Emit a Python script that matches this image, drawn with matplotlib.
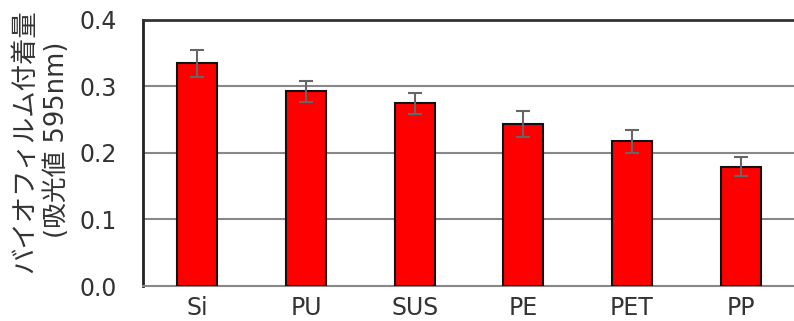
import matplotlib
matplotlib.use("Agg")
import matplotlib.pyplot as plt

categories = ["Si", "PU", "SUS", "PE", "PET", "PP"]
values = [0.334, 0.292, 0.274, 0.243, 0.217, 0.179]
errors = [0.020, 0.016, 0.016, 0.019, 0.017, 0.014]
yticks = [0.0, 0.1, 0.2, 0.3, 0.4]
ylabel_line1 = "バイオフィルム付着量"
ylabel_line2 = "(吸光値 595nm)"

plt.rcParams['font.family'] = ['DejaVu Sans', 'Noto Sans CJK JP']

fig = plt.figure(figsize=(7.94, 3.21), dpi=100)
W, H = 794, 321
left, right, top, bottom = 143, 795, 19.5, 286
ax = fig.add_axes([left / W, 1 - bottom / H, (right - left) / W, (bottom - top) / H])

x = range(len(categories))
ax.bar(x, values, width=0.37, color="#ff0000", edgecolor="#111111", linewidth=1.5, zorder=3)
ax.errorbar(x, values, yerr=errors, fmt="none", ecolor="#666666", elinewidth=1.5,
            capsize=5, capthick=1.5, zorder=4)

ax.set_xlim(-0.5, 5.5)
ax.set_ylim(0, 0.4)
ax.set_yticks(yticks)
ax.set_yticklabels([f"{v:.1f}" for v in yticks])
ax.set_xticks(list(x))
ax.set_xticklabels(categories)

for v in yticks[1:-1]:
    ax.axhline(v, color="#888888", linewidth=1.5, zorder=1)

ax.spines['right'].set_visible(False)
ax.spines['left'].set_color("#222222")
ax.spines['left'].set_linewidth(2)
ax.spines['top'].set_color("#333333")
ax.spines['top'].set_linewidth(2)
ax.spines['bottom'].set_color("#888888")
ax.spines['bottom'].set_linewidth(1.5)

ax.tick_params(axis='both', length=0, labelsize=17, colors="#333333")
ax.tick_params(axis='y', pad=19)
ax.tick_params(axis='x', pad=7)

fig.text(25 / W, 1 - 141 / H, ylabel_line1, rotation=90, ha='center', va='center',
         fontsize=19, color="#333333")
fig.text(57 / W, 1 - 140 / H, ylabel_line2, rotation=90, ha='center', va='center',
         fontsize=18.5, color="#333333")

fig.savefig("out.png", dpi=100)
